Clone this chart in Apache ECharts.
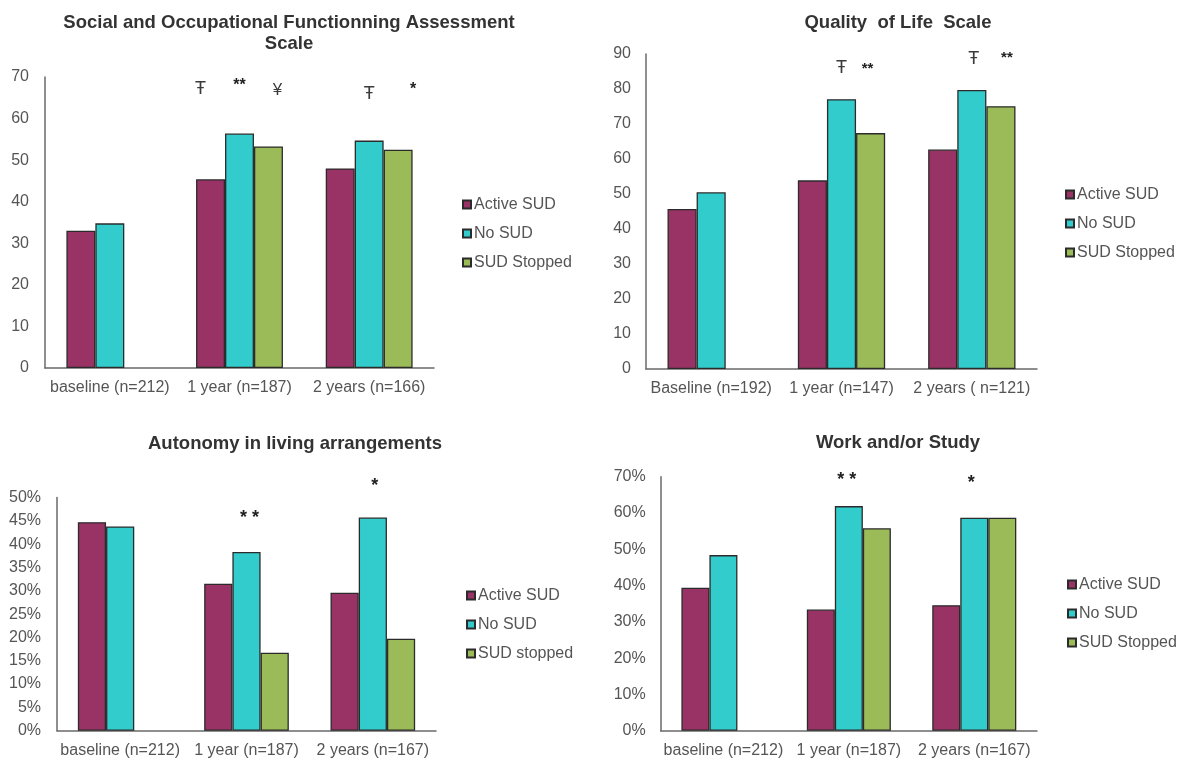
<!DOCTYPE html>
<html>
<head>
<meta charset="utf-8">
<script src="https://cdn.jsdelivr.net/npm/echarts@6/dist/echarts.min.js"></script>
<style>
  html, body { margin: 0; padding: 0; background: #ffffff; }
  #chart { width: 1180px; height: 761px; }
</style>
</head>
<body>
<div id="chart"></div>
<script>
// Series names
const seriesNames = ['Active SUD', 'No SUD', 'SUD Stopped'];
const seriesNamesLiving = ['Active SUD', 'No SUD', 'SUD stopped'];

// Social and Occupational Functioning Assessment Scale (score)
const sofasCategories = ['baseline (n=212)', '1 year (n=187)', '2 years (n=166)'];
const sofasActive = [33.0, 45.4, 48.0];
const sofasNoSud = [34.8, 56.4, 54.7];
const sofasStopped = [null, 53.3, 52.5];
const sofasTicks = [0, 10, 20, 30, 40, 50, 60, 70];
// significance markers: [series index, category index, symbol]
const sofasMarks = [[0, 1, 'Ŧ'], [1, 1, '**'], [2, 1, '¥'], [1, 2, 'Ŧ'], [2, 2, '*']];

// Quality of Life Scale (score)
const qolCategories = ['Baseline (n=192)', '1 year (n=147)', '2 years ( n=121)'];
const qolActive = [45.7, 53.9, 62.7];
const qolNoSud = [50.5, 77.1, 79.7];
const qolStopped = [null, 67.4, 75.1];
const qolTicks = [0, 10, 20, 30, 40, 50, 60, 70, 80, 90];
const qolMarks = [[1, 1, 'Ŧ'], [2, 1, '**'], [1, 2, 'Ŧ'], [2, 2, '**']];

// Autonomy in living arrangements (%)
const livingCategories = ['baseline (n=212)', '1 year (n=187)', '2 years (n=167)'];
const livingActive = [44.7, 31.5, 29.6];
const livingNoSud = [43.8, 38.3, 45.7];
const livingStopped = [null, 16.7, 19.7];
const livingTicks = [0, 5, 10, 15, 20, 25, 30, 35, 40, 45, 50];
const livingMarks = [[1, 1, '* *'], [1, 2, '*']];

// Work and/or study (%)
const workCategories = ['baseline (n=212)', '1 year (n=187)', '2 years (n=167)'];
const workActive = [39.4, 33.4, 34.6];
const workNoSud = [48.4, 61.9, 58.7];
const workStopped = [null, 55.8, 58.7];
const workTicks = [0, 10, 20, 30, 40, 50, 60, 70];
const workMarks = [[1, 1, '* *'], [1, 2, '*']];

const COLORS = ['#993366', '#33CCCC', '#9BBB59'];
const FONT = "'Liberation Sans', Arial, sans-serif";
const TEXT_GREY = '#555555';

// Panel layout: grid box, title anchor, legend anchor, marker placement
// markShift entries: [dx px, dy px, font size]
const panels = [
  {
    title: 'Social and Occupational Functionning Assessment\nScale',
    titleX: 284, titleY: 7,
    grid: { left: 45, top: 77, width: 389, height: 291 },
    legendX: 457, legendY: 191,
    names: seriesNames,
    categories: sofasCategories,
    values: [sofasActive, sofasNoSud, sofasStopped],
    ticks: sofasTicks, pct: false, labelMargin: 16,
    marks: sofasMarks,
    markLevel: [67, 67, 66.5, 66, 66.5],
    markShift: [[-10, 0, 18], [0, -4, 16], [9, -1, 17], [0, 0, 18], [15, -2, 16]]
  },
  {
    title: 'Quality  of Life  Scale',
    titleX: 893, titleY: 7,
    grid: { left: 646, top: 54, width: 391, height: 315 },
    legendX: 1060, legendY: 181,
    names: seriesNames,
    categories: qolCategories,
    values: [qolActive, qolNoSud, qolStopped],
    ticks: qolTicks, pct: false, labelMargin: 15,
    marks: qolMarks,
    markLevel: [86, 86, 88.6, 88.6],
    markShift: [[0, 0, 18], [-3, 1, 15], [2, 0, 18], [6, -1, 15]]
  },
  {
    title: 'Autonomy in living arrangements',
    titleX: 290, titleY: 428,
    grid: { left: 57, top: 497.5, width: 379, height: 233.2 },
    legendX: 461, legendY: 582,
    names: seriesNamesLiving,
    categories: livingCategories,
    values: [livingActive, livingNoSud, livingStopped],
    ticks: livingTicks, pct: true, labelMargin: 16,
    marks: livingMarks,
    markLevel: [46, 50],
    markShift: [[3, 2, 18], [2, -11, 18]]
  },
  {
    title: 'Work and/or Study',
    titleX: 893, titleY: 427,
    grid: { left: 660.7, top: 476.7, width: 376.3, height: 254 },
    legendX: 1062, legendY: 571,
    names: seriesNames,
    categories: workCategories,
    values: [workActive, workNoSud, workStopped],
    ticks: workTicks, pct: true, labelMargin: 15,
    marks: workMarks,
    markLevel: [69.6, 68.6],
    markShift: [[-2, 2, 18], [-3, 1, 18]]
  }
];

const option = {
  backgroundColor: '#ffffff',
  animation: false,
  textStyle: { fontFamily: FONT },
  title: [], legend: [], grid: [], xAxis: [], yAxis: [], series: []
};

panels.forEach(function (p, pi) {
  option.title.push({
    text: p.title,
    left: p.titleX, top: p.titleY, textAlign: 'center',
    textStyle: { fontFamily: FONT, fontSize: 18.5, fontWeight: 'bold', color: '#333333', lineHeight: 21 }
  });
  option.grid.push(Object.assign({ containLabel: false }, p.grid));
  option.legend.push({
    orient: 'vertical',
    left: p.legendX, top: p.legendY,
    itemWidth: 8, itemHeight: 8, itemGap: 12,
    icon: 'rect',
    data: p.names,
    selectedMode: false,
    textStyle: { fontFamily: FONT, fontSize: 16, color: TEXT_GREY, lineHeight: 17, padding: [0, 0, 0, -2] }
  });
  option.xAxis.push({
    type: 'category', gridIndex: pi,
    data: p.categories,
    axisLine: { show: true, lineStyle: { color: '#6a6a6a', width: 1.5 } },
    axisTick: { show: false },
    axisLabel: { fontFamily: FONT, fontSize: 16, color: TEXT_GREY, margin: 12, interval: 0 },
    splitLine: { show: false }
  });
  const tmax = p.ticks[p.ticks.length - 1];
  option.yAxis.push({
    type: 'value', gridIndex: pi,
    min: p.ticks[0], max: tmax, interval: p.ticks[1] - p.ticks[0],
    axisLine: { show: true, lineStyle: { color: '#6a6a6a', width: 1.5 } },
    axisTick: { show: false },
    splitLine: { show: false },
    axisLabel: {
      fontFamily: FONT, fontSize: 16, color: TEXT_GREY, margin: p.labelMargin,
      formatter: p.pct ? '{value}%' : '{value}'
    }
  });
  p.values.forEach(function (vals, si) {
    const markData = [];
    p.marks.forEach(function (m, mi) {
      if (m[0] !== si) return;
      const shift = p.markShift[mi];
      const isStar = m[2].indexOf('*') >= 0;
      markData.push({
        name: m[2],
        coord: [p.categories[m[1]], p.markLevel[mi]],
        label: {
          offset: [shift[0], shift[1]], fontSize: shift[2],
          fontWeight: isStar ? 'bold' : 'normal',
          color: isStar ? '#222222' : '#3a3a3a'
        }
      });
    });
    option.series.push({
      type: 'bar',
      name: p.names[si],
      xAxisIndex: pi, yAxisIndex: pi,
      data: vals.map(function (v) { return v === null ? '-' : v; }),
      barGap: '0%',
      barCategoryGap: '33%',
      itemStyle: { color: COLORS[si], borderColor: '#2b2b2b', borderWidth: 1.3 },
      markPoint: markData.length ? {
        silent: true,
        symbol: 'rect', symbolSize: 1,
        itemStyle: { color: 'rgba(0,0,0,0)' },
        label: { show: true, position: 'inside', formatter: '{b}', fontFamily: FONT },
        data: markData
      } : undefined
    });
  });
});

const chart = echarts.init(document.getElementById('chart'), null, { renderer: 'canvas' });
chart.setOption(option);
</script>
</body>
</html>
